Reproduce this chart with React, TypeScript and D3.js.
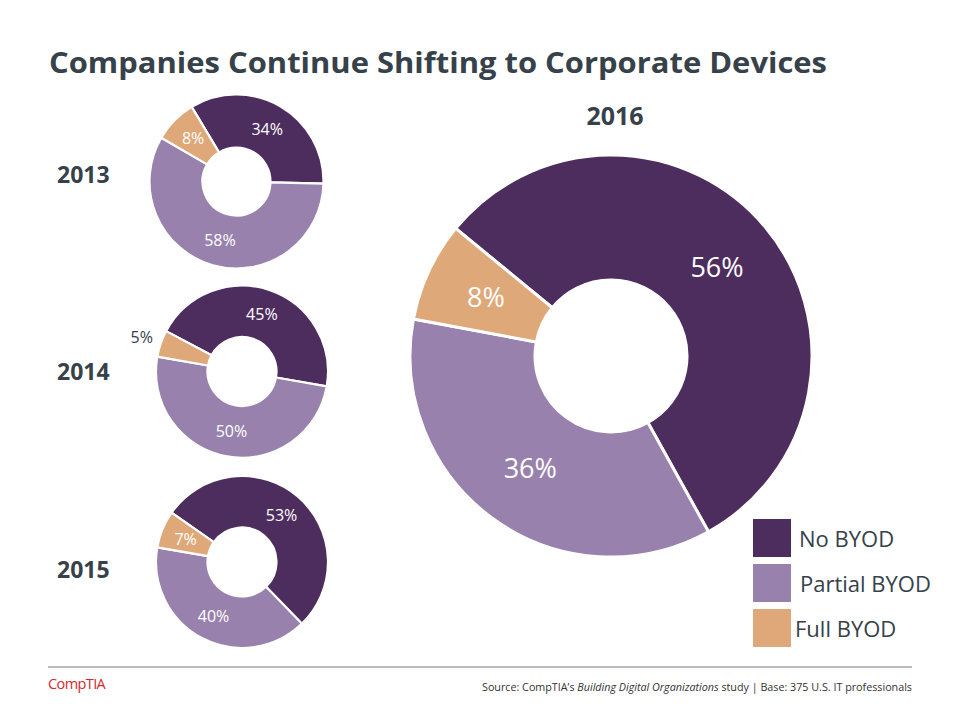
import React from "react";
import * as d3 from "d3";

const years = ["2013", "2014", "2015", "2016"];
const categories = ["No BYOD", "Partial BYOD", "Full BYOD"];
const noByod = [34, 45, 53, 56];
const partialByod = [58, 50, 40, 36];
const fullByod = [8, 5, 7, 8];

const colors = ["#4d2c5e", "#9882ad", "#dfa878"];
const textDark = "#36414a";

// layout per donut: center, radii, rotation (degrees), label settings
const layouts = [
  { cx: 236.5, cy: 181.5, r: 87, ir: 34, start: -31, fs: 16, lr: 61, yearX: 57, yearY: 183, yearAnchor: "start", yearFs: 23, outside: [false, false, false] },
  { cx: 242, cy: 371.5, r: 86, ir: 34.5, start: -62, fs: 16, lr: 61, yearX: 57, yearY: 380, yearAnchor: "start", yearFs: 23, outside: [false, false, true] },
  { cx: 242, cy: 562, r: 86, ir: 34.5, start: -55, fs: 16, lr: 61, yearX: 57, yearY: 578, yearAnchor: "start", yearFs: 23, outside: [false, false, false] },
  { cx: 611, cy: 356, r: 201, ir: 76, start: -50.6, fs: 27, lr: 138, yearX: 615, yearY: 125, yearAnchor: "middle", yearFs: 25, outside: [false, false, false] },
];

const font = "'Open Sans', 'Noto Sans', sans-serif";

function Donut({ i }: { i: number }) {
  const L = layouts[i];
  const values = [noByod[i], partialByod[i], fullByod[i]];
  const start = (L.start * Math.PI) / 180;
  const pie = d3
    .pie<number>()
    .sort(null)
    .value((d) => d)
    .startAngle(start)
    .endAngle(start + 2 * Math.PI);
  const arcs = pie(values);
  const arc = d3.arc<d3.PieArcDatum<number>>().innerRadius(L.ir).outerRadius(L.r);
  const labelArc = d3.arc<d3.PieArcDatum<number>>().innerRadius(L.lr).outerRadius(L.lr);
  const outArc = d3.arc<d3.PieArcDatum<number>>().innerRadius(L.r + 20).outerRadius(L.r + 20);
  const sw = L.r > 150 ? 3 : 2.2;
  return (
    <g>
      <text
        x={L.yearX}
        y={L.yearY}
        textAnchor={L.yearAnchor as any}
        fontFamily={font}
        fontWeight={700}
        fontSize={L.yearFs}
        fill={textDark}
      >
        {years[i]}
      </text>
      <g transform={`translate(${L.cx},${L.cy})`}>
        {arcs.map((a, k) => (
          <path key={k} d={arc(a) || ""} fill={colors[k]} stroke="#fff" strokeWidth={sw} strokeLinejoin="round" />
        ))}
        {arcs.map((a, k) => {
          const out = L.outside[k];
          const [x, y] = out ? outArc.centroid(a) : labelArc.centroid(a);
          return (
            <text
              key={"t" + k}
              x={x}
              y={y}
              dy="0.36em"
              textAnchor="middle"
              fontFamily={font}
              fontSize={L.fs}
              fill={out ? textDark : "#ffffff"}
            >
              {values[k]}%
            </text>
          );
        })}
      </g>
    </g>
  );
}

export default function App() {
  const legendY = [519, 564, 609];
  const legendTextX = [799, 800, 795];
  return (
    <svg width={960} height={720} style={{ position: "absolute", left: 0, top: 0, background: "#fff" }}>
      <rect x={0} y={0} width={960} height={720} fill="#fff" />
      <text
        x={49}
        y={73}
        fontFamily={font}
        fontWeight={700}
        fontSize={29}
        fill={textDark}
        textLength={778}
        lengthAdjust="spacingAndGlyphs"
      >
        Companies Continue Shifting to Corporate Devices
      </text>
      {years.map((_, i) => (
        <Donut key={i} i={i} />
      ))}
      {categories.map((c, k) => (
        <g key={c}>
          <rect x={753} y={legendY[k]} width={38} height={38} fill={colors[k]} />
          <text x={legendTextX[k]} y={legendY[k] + 28} fontFamily={font} fontSize={22} fill={textDark}>
            {c}
          </text>
        </g>
      ))}
      <line x1={48} x2={912} y1={667} y2={667} stroke="#777" strokeWidth={1.2} />
      <text x={48} y={689} fontFamily={font} fontSize={14.5} fill="#d42a2e" letterSpacing={-0.6}>
        CompTIA
      </text>
      <text
        x={912}
        y={691}
        textAnchor="end"
        fontFamily={font}
        fontSize={10.5}
        fill="#333"
        textLength={430}
        lengthAdjust="spacingAndGlyphs"
      >
        Source: CompTIA’s <tspan fontStyle="italic">Building Digital Organizations</tspan> study | Base: 375 U.S. IT professionals
      </text>
    </svg>
  );
}
